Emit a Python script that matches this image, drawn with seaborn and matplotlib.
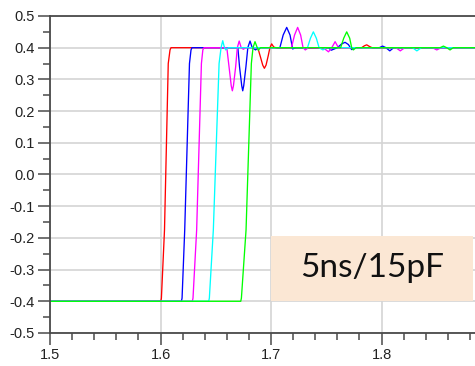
import numpy as np
import pandas as pd
import matplotlib
matplotlib.use("Agg")
import matplotlib.pyplot as plt
import seaborn as sns
from matplotlib.ticker import MultipleLocator, FormatStrFormatter
from matplotlib.patches import Rectangle

# ---- data (time, voltage) ----
red_t = [1.5, 1.6003, 1.6008, 1.6036, 1.6070, 1.6086, 1.6095, 1.6880, 1.6905, 1.6925,
         1.6940, 1.6955, 1.6975, 1.6990, 1.7006, 1.7025, 1.7060, 1.7820, 1.7845, 1.7866,
         1.7890, 1.7920, 1.8846]
red_v = [-0.40, -0.40, -0.39, -0.175, 0.35, 0.393, 0.40, 0.40, 0.37, 0.345,
         0.335, 0.345, 0.375, 0.40, 0.412, 0.402, 0.398, 0.40, 0.406, 0.409,
         0.404, 0.399, 0.40]

blue_t = [1.5, 1.6189, 1.6195, 1.6219, 1.6262, 1.6276, 1.6285, 1.6700, 1.6715, 1.6735,
          1.6744, 1.6753, 1.6773, 1.6790, 1.6810, 1.6830, 1.6860, 1.6885, 1.7080, 1.7110,
          1.7142, 1.7172, 1.7196, 1.7220, 1.7520, 1.7545, 1.7600, 1.7640, 1.7670, 1.7700,
          1.7730, 1.7760, 1.7980, 1.8010, 1.8040, 1.8075, 1.8110, 1.8846]
blue_v = [-0.40, -0.40, -0.39, -0.175, 0.35, 0.393, 0.40, 0.40, 0.34, 0.28,
          0.264, 0.28, 0.34, 0.40, 0.421, 0.40, 0.393, 0.40, 0.40, 0.44,
          0.464, 0.44, 0.396, 0.40, 0.40, 0.392, 0.40, 0.412, 0.417, 0.41,
          0.394, 0.40, 0.40, 0.405, 0.40, 0.390, 0.40, 0.40]

magenta_t = [1.5, 1.6288, 1.6294, 1.6327, 1.6370, 1.6383, 1.6393, 1.6600, 1.6620, 1.6640,
             1.6650, 1.6660, 1.6680, 1.6695, 1.6712, 1.6730, 1.6750, 1.6770, 1.7185, 1.7213,
             1.7241, 1.7268, 1.7290, 1.7310, 1.7340, 1.7480, 1.7520, 1.7550, 1.7580, 1.7610,
             1.8130, 1.8170, 1.8210, 1.8460, 1.8500, 1.8540, 1.8846]
magenta_v = [-0.40, -0.40, -0.39, -0.175, 0.35, 0.393, 0.40, 0.40, 0.34, 0.28,
             0.264, 0.28, 0.34, 0.40, 0.421, 0.40, 0.395, 0.40, 0.40, 0.44,
             0.464, 0.44, 0.40, 0.393, 0.40, 0.398, 0.387, 0.40, 0.419, 0.40,
             0.40, 0.390, 0.40, 0.40, 0.393, 0.40, 0.40]

cyan_t = [1.5, 1.6436, 1.6442, 1.6478, 1.6530, 1.6548, 1.6563, 1.6575, 1.6590, 1.6610,
          1.7330, 1.7357, 1.7383, 1.7410, 1.7435, 1.7470, 1.7500, 1.8280, 1.8320, 1.8360,
          1.8846]
cyan_v = [-0.40, -0.40, -0.39, -0.175, 0.35, 0.40, 0.422, 0.405, 0.393, 0.40,
          0.40, 0.43, 0.450, 0.43, 0.40, 0.393, 0.40, 0.40, 0.390, 0.40,
          0.40]

green_t = [1.5, 1.6726, 1.6732, 1.6774, 1.6822, 1.6837, 1.6855, 1.6870, 1.6885, 1.6905,
           1.7630, 1.7658, 1.7685, 1.7712, 1.7730, 1.7745, 1.7770, 1.8530, 1.8560, 1.8590,
           1.8620, 1.8650, 1.8846]
green_v = [-0.40, -0.40, -0.39, -0.175, 0.35, 0.40, 0.419, 0.405, 0.392, 0.40,
           0.40, 0.43, 0.450, 0.43, 0.40, 0.393, 0.40, 0.40, 0.405, 0.40,
           0.393, 0.40, 0.40]

signals = ["red", "blue", "magenta", "cyan", "green"]
colors = ["#FF0000", "#0000FF", "#FF00FF", "#00FFFF", "#00FF00"]
x_ticks = [1.5, 1.6, 1.7, 1.8]
y_ticks = [-0.5, -0.4, -0.3, -0.2, -0.1, 0.0, 0.1, 0.2, 0.3, 0.4, 0.5]
box_label = "5ns/15pF"

series = {"red": (red_t, red_v), "blue": (blue_t, blue_v), "magenta": (magenta_t, magenta_v),
          "cyan": (cyan_t, cyan_v), "green": (green_t, green_v)}
frames = [pd.DataFrame({"t": t, "v": v, "sig": name}) for name, (t, v) in series.items()]
df = pd.concat(frames, ignore_index=True)

sns.set_style("white")
plt.rcParams['font.family'] = ['Liberation Sans', 'DejaVu Sans']

fig = plt.figure(figsize=(4.75, 3.66), dpi=100)
ax = fig.add_axes([0.1053, 0.0902, 0.8947, 0.8661])

sns.lineplot(data=df, x="t", y="v", hue="sig", hue_order=signals,
             palette=dict(zip(signals, colors)), estimator=None, sort=False,
             linewidth=0.95, legend=False, ax=ax)

ax.set_xlim(1.5, 1.8846)
ax.set_ylim(-0.5, 0.5)
ax.set_xticks(x_ticks)
ax.set_yticks(y_ticks)
ax.xaxis.set_major_formatter(FormatStrFormatter("%.1f"))
ax.yaxis.set_major_formatter(FormatStrFormatter("%.1f"))
ax.xaxis.set_minor_locator(MultipleLocator(0.02))
ax.yaxis.set_minor_locator(MultipleLocator(0.05))
ax.set_xlabel("")
ax.set_ylabel("")

ax.grid(True, which="major", color="#d4d4d4", linewidth=1.2)
ax.set_axisbelow(True)

for s in ["left", "top", "bottom"]:
    ax.spines[s].set_color("#4a4a4a")
    ax.spines[s].set_linewidth(1.3)
ax.spines["right"].set_visible(False)

ax.tick_params(which="major", direction="out", length=8.5, width=1.1, color="#4a4a4a",
               labelsize=10.5, labelcolor="#222222", pad=2.5,
               bottom=True, left=True, top=False, right=False)
ax.tick_params(which="minor", direction="out", length=4.8, width=1.1, color="#4a4a4a",
               bottom=True, left=True, top=False, right=False)

ax.add_patch(Rectangle((0.52, 0.102), 0.4746, 0.204, transform=ax.transAxes,
                       facecolor="#FBE7D4", edgecolor="none", zorder=3))
ax.text(0.757, 0.204, box_label, transform=ax.transAxes, ha="center", va="center",
        fontsize=24, family=["Lato", "DejaVu Sans"], color="#111111", zorder=4)

fig.savefig("out.png", dpi=100)
